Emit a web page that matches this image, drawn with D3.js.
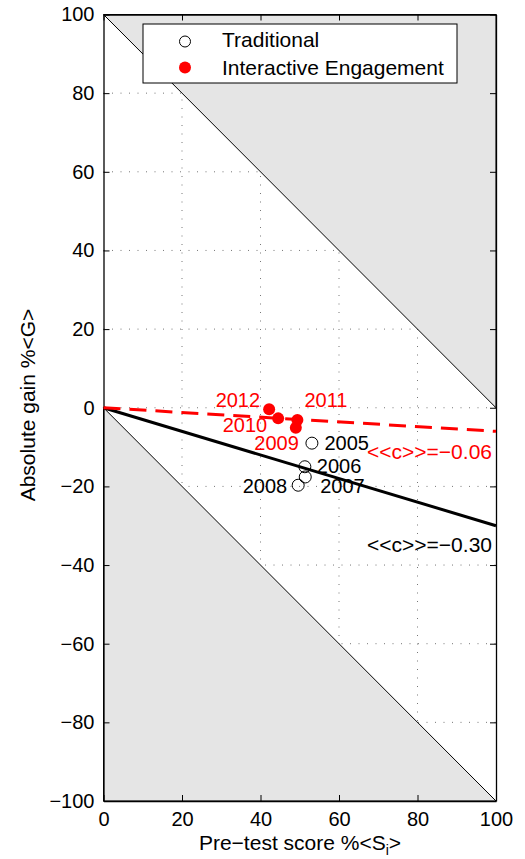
<!DOCTYPE html>
<html><head><meta charset="utf-8">
<script src="https://cdn.jsdelivr.net/npm/d3@7"></script>
<style>body{margin:0;background:#fff}svg{display:block}text{font-family:"Liberation Sans",Arial,Helvetica,sans-serif}</style>
</head><body><svg id="c" width="525" height="859"></svg>
<script>
const xTicks=[0,20,40,60,80,100];
const yTicks=[-100,-80,-60,-40,-20,0,20,40,60,80,100];
const tradYears=["2005","2006","2007","2008"];
const tradX=[53.1,51.3,51.4,49.6];
const tradY=[-9.0,-15.0,-17.6,-19.7];
const ieYears=["2009","2010","2011","2012"];
const ieX=[49.0,44.5,49.4,42.2];
const ieY=[-5.1,-2.7,-3.1,-0.4];
const slopeTrad=-0.30, slopeIE=-0.06;
const fitLabels=["<<c>>=\u22120.06","<<c>>=\u22120.30"];

const svg=d3.select("#c");
const L=103.5,R=496,T=14.5,B=801;
const x=d3.scaleLinear().domain([0,100]).range([L,R]);
const y=d3.scaleLinear().domain([-100,100]).range([B,T]);
const fsNum=20, fs=21;
const FF="'Liberation Sans',Arial,sans-serif";

// grid (drawn beneath gray patches)
const g=svg.append("g");
xTicks.slice(1,-1).forEach(t=>g.append("line").attr("x1",x(t)).attr("x2",x(t)).attr("y1",T).attr("y2",B).attr("stroke","#777").attr("stroke-width",1).attr("stroke-dasharray","1,7.5"));
yTicks.slice(1,-1).forEach(t=>g.append("line").attr("x1",L).attr("x2",R).attr("y1",y(t)).attr("y2",y(t)).attr("stroke","#777").attr("stroke-width",1).attr("stroke-dasharray","1,7.5"));

// gray forbidden regions
const gray="#e5e5e5";
svg.append("path").attr("d",d3.line()([[x(0),y(100)],[x(100),y(100)],[x(100),y(0)]])+"Z").attr("fill",gray).attr("stroke","#000").attr("stroke-width",1);
svg.append("path").attr("d",d3.line()([[x(0),y(0)],[x(0),y(-100)],[x(100),y(-100)]])+"Z").attr("fill",gray).attr("stroke","#000").attr("stroke-width",1);

// axes
const ax=svg.append("g");
ax.append("g").attr("transform",`translate(0,${B})`).call(d3.axisBottom(x).tickValues(xTicks).tickSizeInner(-6).tickSizeOuter(0).tickPadding(11).tickFormat(d3.format("d")));
ax.append("g").attr("transform",`translate(0,${T})`).call(d3.axisTop(x).tickValues(xTicks).tickSizeInner(-6).tickSizeOuter(0).tickFormat(""));
ax.append("g").attr("transform",`translate(${L},0)`).call(d3.axisLeft(y).tickValues(yTicks).tickSizeInner(-6).tickSizeOuter(0).tickPadding(9).tickFormat(d=>d<0?"\u2212"+Math.abs(d):d));
ax.append("g").attr("transform",`translate(${R},0)`).call(d3.axisRight(y).tickValues(yTicks).tickSizeInner(-6).tickSizeOuter(0).tickFormat(""));
ax.selectAll(".domain").attr("stroke","#000").attr("stroke-width",1.3);
ax.selectAll(".tick line").attr("stroke","#000");
ax.selectAll(".tick text").attr("font-size",fsNum).attr("fill","#000").attr("font-family",FF);

// fit lines
svg.append("line").attr("x1",x(0)).attr("y1",y(0)).attr("x2",x(100)).attr("y2",y(100*slopeTrad)).attr("stroke","#000").attr("stroke-width",3);
svg.append("line").attr("x1",x(0)).attr("y1",y(0)).attr("x2",x(100)).attr("y2",y(100*slopeIE)).attr("stroke","#ff0000").attr("stroke-width",3).attr("stroke-dasharray","17,9");

// points
tradX.forEach((v,i)=>svg.append("circle").attr("cx",x(v)).attr("cy",y(tradY[i])).attr("r",6).attr("fill","none").attr("stroke","#000").attr("stroke-width",1));
ieX.forEach((v,i)=>svg.append("circle").attr("cx",x(v)).attr("cy",y(ieY[i])).attr("r",6).attr("fill","#ff0000"));

// point labels (offsets in px from point)
const tradOff=[[12.5,7,"start"],[12,6,"start"],[15,16,"start"],[-11,8,"end"]];
tradYears.forEach((t,i)=>svg.append("text").attr("x",x(tradX[i])+tradOff[i][0]).attr("y",y(tradY[i])+tradOff[i][1]).attr("font-size",fsNum).attr("text-anchor",tradOff[i][2]).text(t));
const ieOff=[[3,22,"end"],[-11,14,"end"],[7,-13,"start"],[-9,-2,"end"]];
ieYears.forEach((t,i)=>svg.append("text").attr("x",x(ieX[i])+ieOff[i][0]).attr("y",y(ieY[i])+ieOff[i][1]).attr("font-size",fsNum).attr("fill","#ff0000").attr("text-anchor",ieOff[i][2]).text(t));

svg.append("text").attr("x",492).attr("y",459).attr("font-size",fs).attr("fill","#ff0000").attr("text-anchor","end").text(fitLabels[0]);
svg.append("text").attr("x",492).attr("y",552).attr("font-size",fs).attr("fill","#000").attr("text-anchor","end").text(fitLabels[1]);

// legend
const lg=svg.append("g");
lg.append("rect").attr("x",143).attr("y",24).attr("width",314).attr("height",59).attr("fill","#fff").attr("stroke","#000").attr("stroke-width",1);
lg.append("circle").attr("cx",185).attr("cy",41.5).attr("r",5.5).attr("fill","none").attr("stroke","#000");
lg.append("circle").attr("cx",185).attr("cy",67.5).attr("r",6).attr("fill","#ff0000");
lg.append("text").attr("x",222).attr("y",47).attr("font-size",fs).text("Traditional");
lg.append("text").attr("x",222).attr("y",75).attr("font-size",fs).text("Interactive Engagement");

// axis labels
const xl=svg.append("text").attr("x",300).attr("y",850).attr("font-size",fs).attr("text-anchor","middle");
xl.append("tspan").text("Pre\u2212test score %<S");
xl.append("tspan").attr("font-size",14).attr("dy",5).text("i");
xl.append("tspan").attr("dy",-5).text(">");
svg.append("text").attr("transform","translate(35,405) rotate(-90)").attr("font-size",fs).attr("text-anchor","middle").text("Absolute gain %<G>");
</script></body></html>
